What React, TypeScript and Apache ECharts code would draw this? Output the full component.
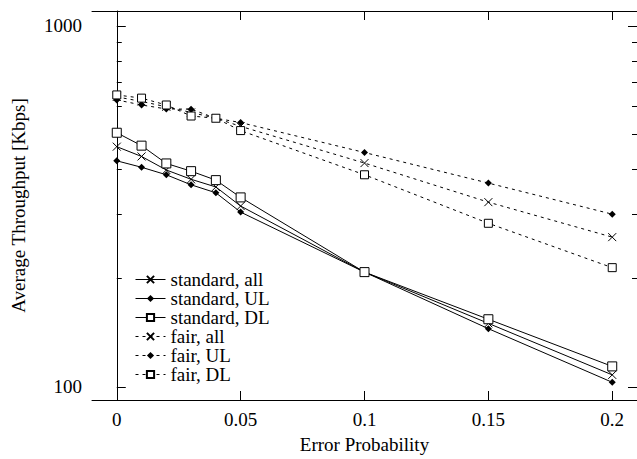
import React, { useEffect, useRef } from "react";
import * as echarts from "echarts";

const xValues = [0, 0.01, 0.02, 0.03, 0.04, 0.05, 0.1, 0.15, 0.2];
const stdAll = [463, 435, 399, 376, 358, 317, 208, 150, 108];
const stdUL = [423, 406, 387, 363, 345, 305, 208, 145, 103];
const stdDL = [506, 466, 416, 396, 374, 335, 208, 154, 114];
const fairAll = [636, 618, 597, 576, 555, 527, 417, 325, 260];
const fairUL = [624, 604, 589, 588, 555, 540, 446, 367, 301];
const fairDL = [644, 631, 604, 563, 555, 513, 387, 284, 214];

const xTicks = [0, 0.05, 0.1, 0.15, 0.2];
const yMajorTicks = [100, 1000];
const yMinorTicks = [200, 300, 400, 500, 600, 700, 800, 900];

const FONT = "'Liberation Serif', 'Times New Roman', serif";
const FS = 19;
const CROSS = "path://M0,0L10,10M10,0L0,10";

export default function App() {
  const ref = useRef<HTMLDivElement>(null);
  useEffect(() => {
    if (!ref.current) return;
    const chart = echarts.init(ref.current, undefined, { renderer: "svg" });
    const pts = (ys: number[]) => xValues.map((x, i) => [x, ys[i]]);
    const mk = (
      name: string,
      ys: number[],
      symbol: string,
      size: number,
      fill: string,
      stroke: boolean,
      dashed: boolean
    ) => ({
      name,
      type: "line",
      data: pts(ys),
      symbol,
      symbolSize: size,
      showAllSymbol: true,
      lineStyle: { color: "#000", width: 1, type: dashed ? [3, 4] : "solid" },
      itemStyle: {
        color: fill,
        borderColor: "#000",
        borderWidth: stroke ? 1 : 0,
      },
      emphasis: { disabled: true },
    });
    const yBase = {
      type: "log",
      min: 92,
      max: 1100,
      splitLine: { show: false },
    };
    const txt = { fontFamily: FONT, fontSize: FS, color: "#000" };
    chart.setOption({
      animation: false,
      backgroundColor: "#fff",
      grid: { left: 92, top: 11, width: 546, height: 389, containLabel: false },
      legend: {
        orient: "vertical",
        left: 135,
        top: 270,
        padding: 0,
        itemWidth: 30,
        itemHeight: 9,
        itemGap: 0,
        selectedMode: false,
        lineStyle: { width: 1 },
        textStyle: { ...txt, lineHeight: 17.6 },
        data: ["standard, all", "standard, UL", "standard, DL", "fair, all", "fair, UL", "fair, DL"],
      },
      xAxis: [
        {
          type: "value",
          min: -0.01,
          max: 0.21,
          name: "Error Probability",
          nameLocation: "middle",
          nameGap: 35,
          nameTextStyle: txt,
          axisLine: { show: true, lineStyle: { color: "#000", width: 1 } },
          axisTick: { show: true, inside: true, length: 9, lineStyle: { color: "#000" }, customValues: xTicks },
          axisLabel: { ...txt, margin: 10, customValues: xTicks },
          splitLine: { show: false },
        },
        {
          type: "value",
          position: "top",
          min: -0.01,
          max: 0.21,
          axisLine: { show: true, lineStyle: { color: "#000", width: 1 } },
          axisTick: { show: true, inside: true, length: 9, lineStyle: { color: "#000" }, customValues: xTicks },
          axisLabel: { show: false },
          splitLine: { show: false },
        },
      ],
      yAxis: [
        {
          ...yBase,
          position: "left",
          name: "Average Throughput [Kbps]",
          nameLocation: "middle",
          nameGap: 64,
          nameTextStyle: txt,
          axisLine: { show: true, lineStyle: { color: "#000", width: 1 } },
          axisTick: { show: true, inside: true, length: 9, lineStyle: { color: "#000" }, customValues: yMajorTicks },
          axisLabel: { ...txt, margin: 10, customValues: yMajorTicks, formatter: (v: number) => String(Math.round(v)) },
        },
        {
          ...yBase,
          position: "left",
          axisLine: { show: false },
          axisTick: { show: true, inside: true, length: 5, lineStyle: { color: "#000" }, customValues: yMinorTicks },
          axisLabel: { show: false },
        },
        {
          ...yBase,
          position: "right",
          axisLine: { show: true, lineStyle: { color: "#000", width: 1 } },
          axisTick: { show: true, inside: true, length: 9, lineStyle: { color: "#000" }, customValues: yMajorTicks },
          axisLabel: { show: false },
        },
        {
          ...yBase,
          position: "right",
          axisLine: { show: false },
          axisTick: { show: true, inside: true, length: 5, lineStyle: { color: "#000" }, customValues: yMinorTicks },
          axisLabel: { show: false },
        },
      ],
      series: [
        mk("standard, all", stdAll, CROSS, 8, "none", true, false),
        mk("standard, UL", stdUL, "diamond", 7, "#000", false, false),
        mk("standard, DL", stdDL, "rect", 9, "#fff", true, false),
        mk("fair, all", fairAll, CROSS, 8, "none", true, true),
        mk("fair, UL", fairUL, "diamond", 7, "#000", false, true),
        mk("fair, DL", fairDL, "rect", 8, "#fff", true, true),
      ],
    });
    return () => chart.dispose();
  }, []);
  return (
    <div
      ref={ref}
      style={{ position: "fixed", left: 0, top: 0, width: 637, height: 459 }}
    />
  );
}
